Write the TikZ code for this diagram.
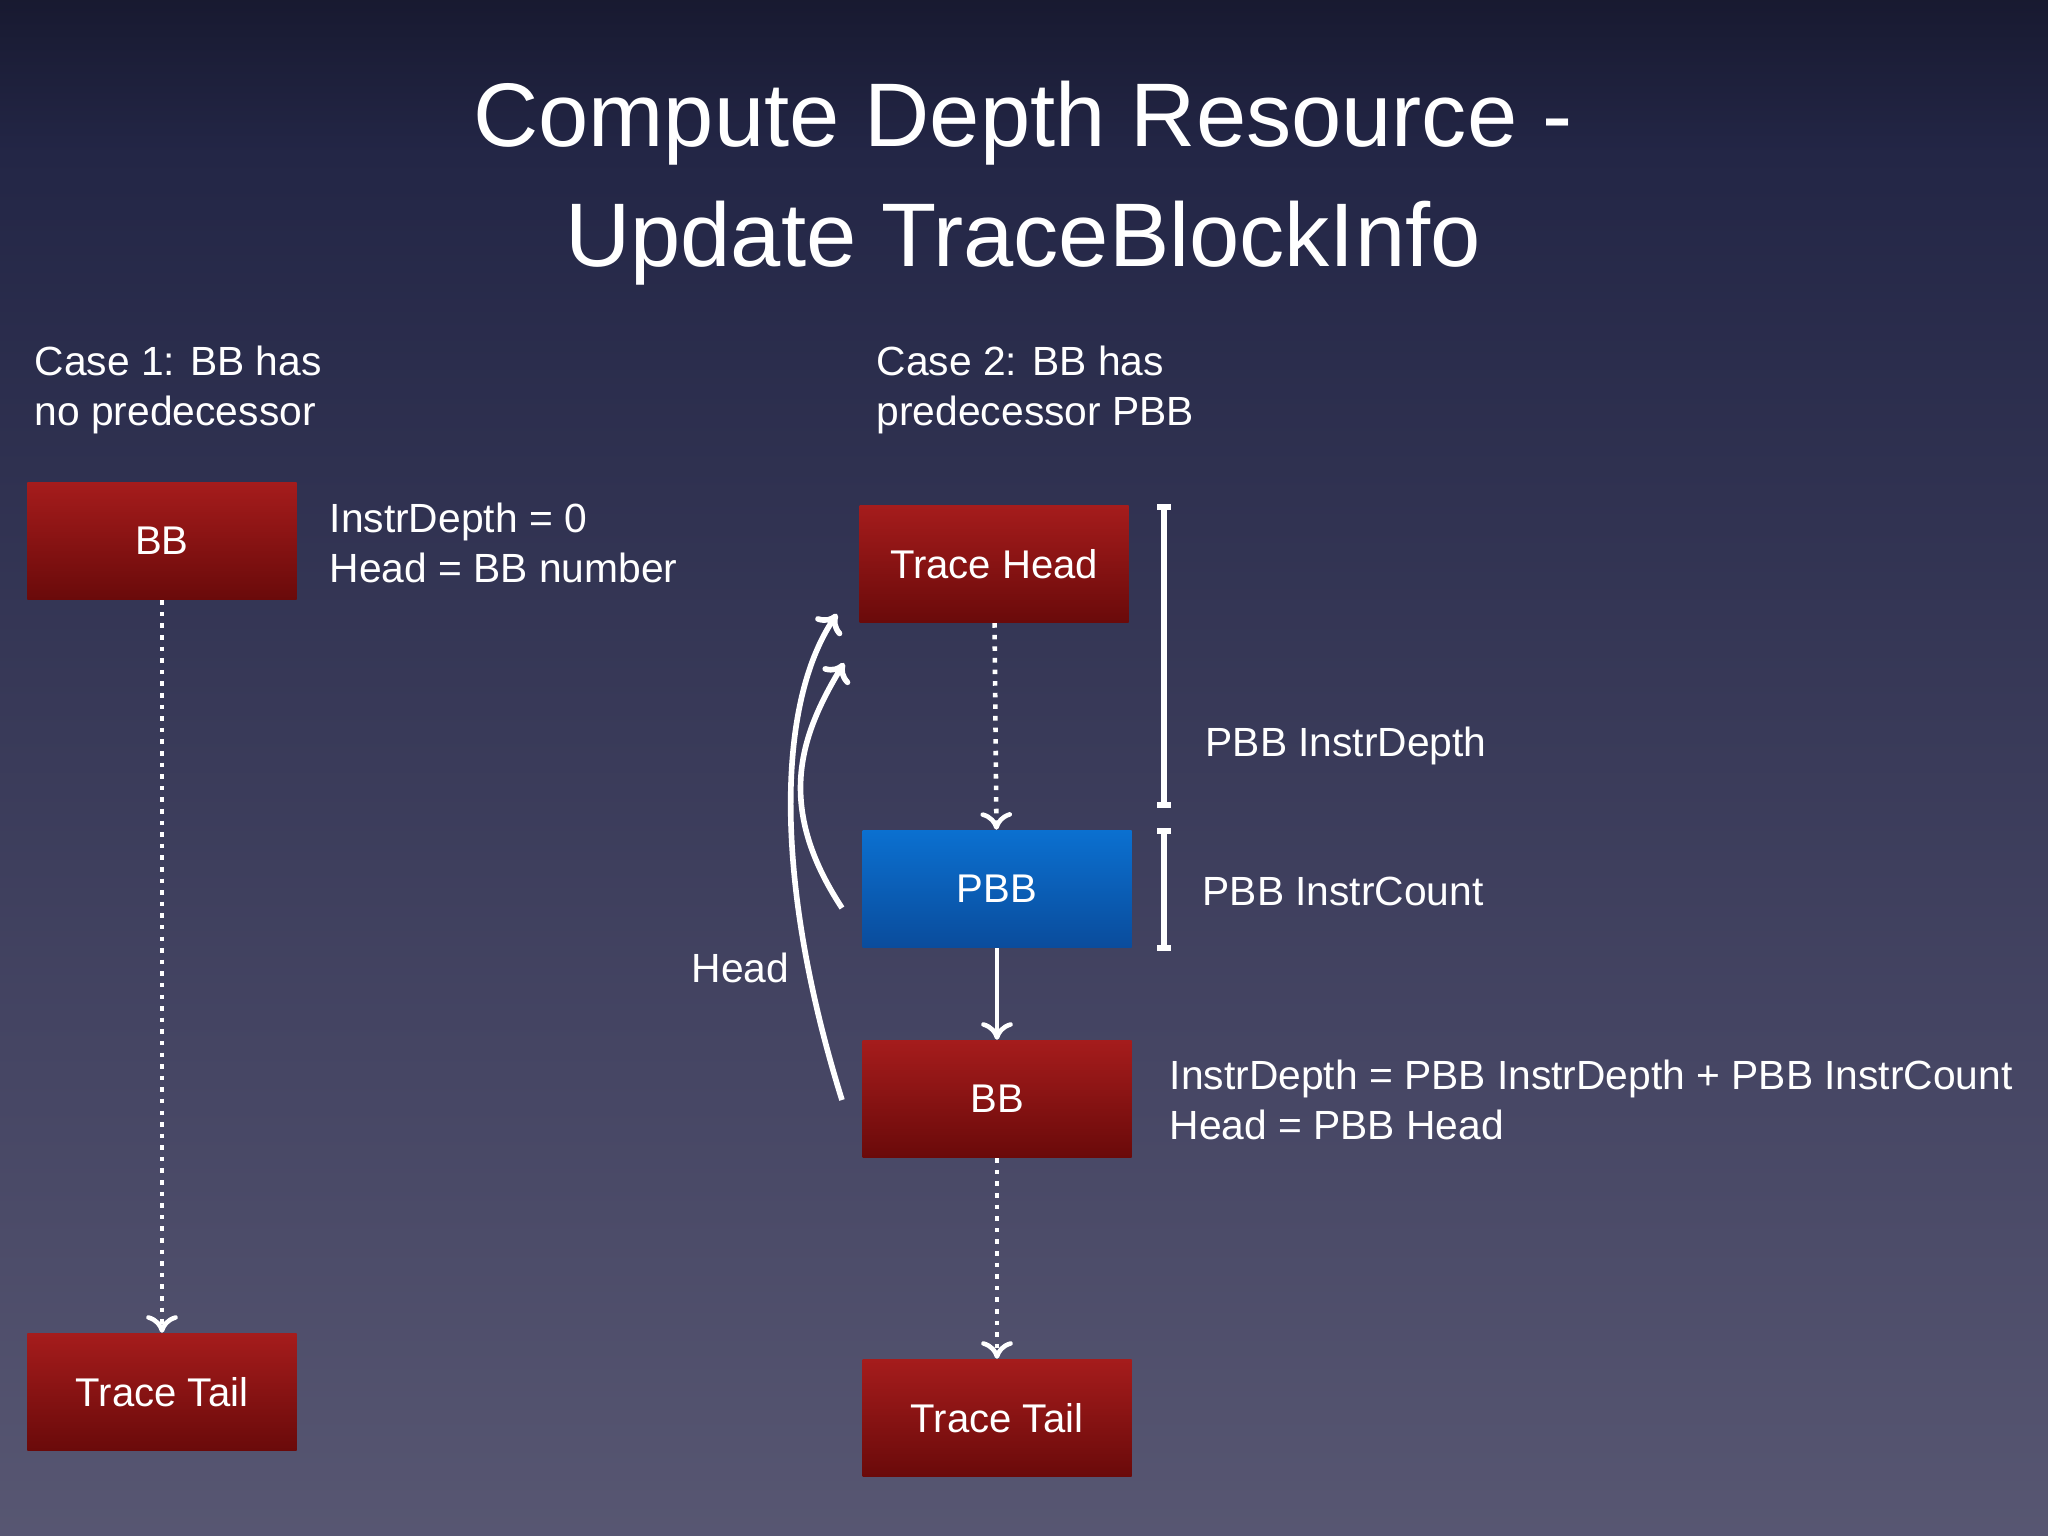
\documentclass[tikz,border=0pt]{standalone}
\usepackage{fontspec}
\setmainfont{Liberation Sans}
\usetikzlibrary{arrows.meta}
\definecolor{redtop}{HTML}{A51C1C}
\definecolor{redbot}{HTML}{6A0A0A}
\definecolor{bluetop}{HTML}{0B70D0}
\definecolor{bluebot}{HTML}{0A4C9C}
\definecolor{bga}{RGB}{116,114,137}
\definecolor{bgb}{RGB}{70,70,100}
\definecolor{bgc}{RGB}{35,38,70}
\definecolor{bgd}{RGB}{8,8,18}
\pgfdeclareverticalshading{bgshade}{100bp}{color(0bp)=(bga); color(40bp)=(bgb); color(70bp)=(bgc); color(82bp)=(bgd); color(88bp)=(black); color(100bp)=(black)}
\tikzset{
 box/.style={minimum width=2.69cm,minimum height=1.17cm,inner sep=0pt,text=white,font=\fontsize{11.4}{14}\selectfont},
 redbox/.style={box,top color=redtop,bottom color=redbot},
 bluebox/.style={box,top color=bluetop,bottom color=bluebot},
 lbl/.style={text=white,font=\fontsize{11.6}{14}\selectfont,inner sep=0pt,align=left},
 arr/.style={white,line width=1.3pt,-{To[length=5pt,width=9pt]}},
 dotarr/.style={arr,dotted},
}
\begin{document}
\begin{tikzpicture}
\useasboundingbox (0,0) rectangle (20.48,15.36);
\shade[shading=bgshade] (0,0) rectangle (20.48,15.36);
\node[text=white,font=\fontsize{25.7}{34}\selectfont,align=center] (title) at (10.23,13.53) {Compute Depth Resource -\\Update TraceBlockInfo};
\node[lbl,anchor=west] (c1) at (0.34,11.46) {Case 1: BB has\\no predecessor};
\node[lbl,anchor=west] (c2) at (8.76,11.46) {Case 2: BB has\\predecessor PBB};
\node[redbox] (bb1) at (1.62,9.95) {BB};
\node[redbox] (tt1) at (1.62,1.44) {Trace Tail};
\node[lbl,anchor=west] (t1) at (3.29,9.93) {InstrDepth = 0\\Head = BB number};
\node[redbox] (th) at (9.94,9.72) {Trace Head};
\node[bluebox] (pbb) at (9.97,6.47) {PBB};
\node[redbox] (bb2) at (9.97,4.37) {BB};
\node[redbox] (tt2) at (9.97,1.18) {Trace Tail};
\draw[dotarr] (bb1) -- (tt1);
\draw[dotarr] (th) -- (pbb);
\draw[arr] (pbb) -- (bb2);
\draw[dotarr] (bb2) -- (tt2);
\coordinate (a1) at (8.42,4.36); \coordinate (b1) at (8.37,9.22);
\coordinate (a2) at (8.42,6.28); \coordinate (b2) at (8.44,8.73);
\draw[arr,line width=1.6pt] (a1) .. controls (7.75,6.5) and (7.75,8.3) .. (b1);
\draw[arr,line width=1.6pt] (a2) .. controls (7.75,7.3) and (8.0,8.0) .. (b2);
\node[lbl,anchor=east] (hd) at (7.90,5.68) {Head};
\draw[white,line width=1.6pt] (11.57,10.29) -- (11.71,10.29) (11.64,10.29) -- (11.64,7.31) (11.57,7.31) -- (11.71,7.31);
\draw[white,line width=1.6pt] (11.57,7.05) -- (11.71,7.05) (11.64,7.05) -- (11.64,5.88) (11.57,5.88) -- (11.71,5.88);
\node[lbl,anchor=west] (pd) at (12.05,7.90) {PBB InstrDepth};
\node[lbl,anchor=west] (pc) at (12.02,6.45) {PBB InstrCount};
\node[lbl,anchor=west] (t2) at (11.69,4.36) {InstrDepth = PBB InstrDepth + PBB InstrCount\\Head = PBB Head};
\end{tikzpicture}
\end{document}
